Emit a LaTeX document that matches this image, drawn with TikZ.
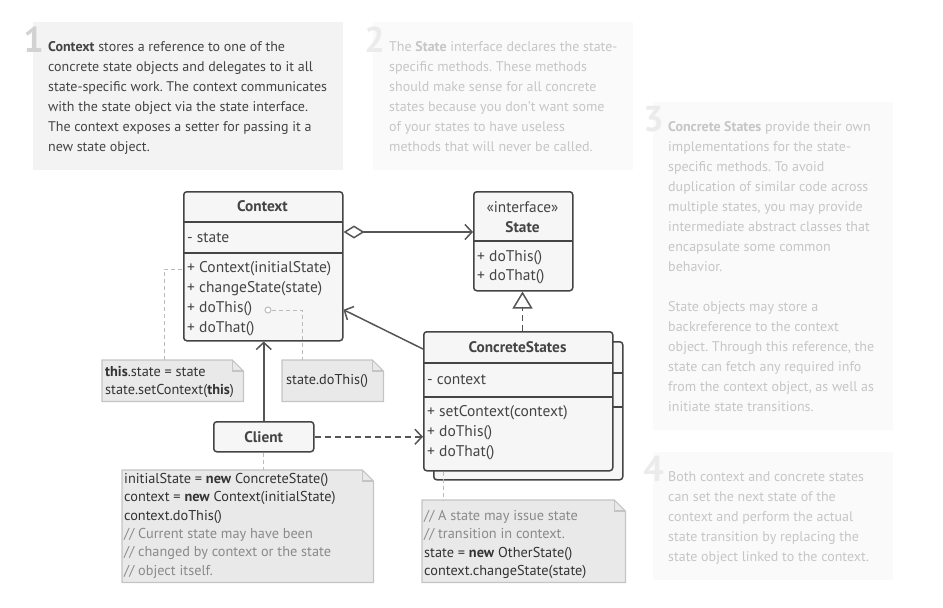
\documentclass[tikz,border=0pt]{standalone}
\usepackage{fontspec}
\setmainfont{PT Sans}
\usetikzlibrary{arrows.meta}
\definecolor{ink}{HTML}{444444}
\definecolor{lineink}{HTML}{555555}
\definecolor{boxfill}{HTML}{F6F6F6}
\definecolor{panelA}{HTML}{F3F3F3}
\definecolor{panelB}{HTML}{FAFAFA}
\definecolor{fadeink}{HTML}{C6C6C6}
\definecolor{numA}{HTML}{D2D2D2}
\definecolor{numB}{HTML}{EBEBEB}
\definecolor{notefill}{HTML}{E9E9E9}
\definecolor{notedraw}{HTML}{C4C4C4}
\definecolor{notelink}{HTML}{BBBBBB}
\definecolor{noteink}{HTML}{333333}
\definecolor{cmt}{HTML}{8A8A8A}
\frenchspacing
\begin{document}
\begin{tikzpicture}[x=1pt,y=-1pt,
  panel/.style={draw=none,fill=#1},
  bignum/.style={anchor=base east,inner sep=0pt,text=#1,font=\fontsize{36}{36}\selectfont\bfseries},
  para/.style={anchor=north west,inner sep=0pt,align=left,text=#1,font=\fontsize{14}{20}\selectfont},
  clsbox/.style={draw=ink,line width=1.5pt,fill=boxfill,rounded corners=3pt,anchor=north west,inner sep=0pt},
  clsdiv/.style={draw=ink,line width=1.5pt},
  clstxt/.style={anchor=west,inner sep=0pt,text=ink,font=\fontsize{15.5}{19}\selectfont},
  clshead/.style={inner sep=0pt,text=ink,font=\fontsize{15.3}{19}\selectfont\bfseries},
  conn/.style={draw=lineink,line width=1.5pt},
  barb/.style={-{Straight Barb[length=7pt,width=15pt,line width=1.5pt]}},
  notebox/.style={draw=none,anchor=north west,inner sep=0pt},
  noteshape/.style={draw=notedraw,fill=notefill,line width=1.2pt},
  notetxt/.style={anchor=north west,inner sep=0pt,align=left,text=noteink,font=\fontsize{14.3}{18.4}\selectfont},
  notelnk/.style={draw=notelink,line width=1pt,dash pattern=on 4pt off 3pt},
]
\useasboundingbox (0,0) rectangle (943,608);

% ---- text panels
\fill[panel=panelA] (33,22) rectangle (343,170);
\fill[panel=panelB] (373,22) rectangle (633,170);
\fill[panel=panelB] (653,102) rectangle (893,430);
\fill[panel=panelB] (653,452) rectangle (893,580);

\node[bignum=numA] (num1) at (44,52) {1};
\node[bignum=numB] (num2) at (385,52) {2};
\node[bignum=numB] (num3) at (664,131) {3};
\node[bignum=numB] (num4) at (664,481) {4};

\node[para=ink] (p1) at (48,41) {\textbf{Context} stores a reference to one of the\\
concrete state objects and delegates to it all\\
state-specific work. The context communicates\\
with the state object via the state interface.\\
The context exposes a setter for passing it a\\
new state object.};

\node[para=fadeink] (p2) at (389,41) {The \textbf{State} interface declares the state-\\
specific methods. These methods\\
should make sense for all concrete\\
states because you don’t want some\\
of your states to have useless\\
methods that will never be called.};

\node[para=fadeink] (p3a) at (668,121) {\textbf{Concrete States} provide their own\\
implementations for the state-\\
specific methods. To avoid\\
duplication of similar code across\\
multiple states, you may provide\\
intermediate abstract classes that\\
encapsulate some common\\
behavior.};

\node[para=fadeink] (p3b) at (668,301) {State objects may store a\\
backreference to the context\\
object. Through this reference, the\\
state can fetch any required info\\
from the context object, as well as\\
initiate state transitions.};

\node[para=fadeink] (p4) at (668,471) {Both context and concrete states\\
can set the next state of the\\
context and perform the actual\\
state transition by replacing the\\
state object linked to the context.};

% ---- Context class
\node[clsbox,minimum width=159pt,minimum height=149pt] (ctx) at (183,191) {};
\draw[clsdiv] (183,222) -- (342,222);
\draw[clsdiv] (183,253) -- (342,253);
\node[clshead] (ctxT) at (262.5,206.5) {Context};
\node[clstxt] (ctxA) at (187,238) {- state};
\node[clstxt] (ctxM1) at (187,269) {+ Context(initialState)};
\node[clstxt] (ctxM2) at (187,289) {+ changeState(state)};
\node[clstxt] (ctxM3) at (187,309) {+ doThis()};
\node[clstxt] (ctxM4) at (187,329) {+ doThat()};

% ---- State interface
\node[clsbox,minimum width=99pt,minimum height=99pt] (state) at (473,191) {};
\draw[clsdiv] (473,241) -- (572,241);
\node[inner sep=0pt,text=ink,font=\fontsize{15.3}{19}\selectfont] (stS) at (522.5,207) {«interface»};
\node[clshead] (stT) at (522.5,227) {State};
\node[clstxt] (stM1) at (477,258) {+ doThis()};
\node[clstxt] (stM2) at (477,277) {+ doThat()};

% ---- ConcreteStates (stacked)
\node[clsbox,minimum width=189pt,minimum height=138pt] (csback) at (433,341) {};
\draw[clsdiv] (433,373) -- (622,373);
\draw[clsdiv] (433,407) -- (622,407);
\node[clsbox,minimum width=189pt,minimum height=139pt] (cs) at (423,331) {};
\draw[clsdiv] (423,363) -- (612,363);
\draw[clsdiv] (423,397) -- (612,397);
\node[clshead] (csT) at (517.5,347) {ConcreteStates};
\node[clstxt] (csA) at (427,380) {- context};
\node[clstxt] (csM1) at (427,413) {+ setContext(context)};
\node[clstxt] (csM2) at (427,433) {+ doThis()};
\node[clstxt] (csM3) at (427,453) {+ doThat()};

% ---- Client
\node[clsbox,minimum width=100pt,minimum height=30pt] (client) at (213,421) {};
\node[clshead] (clT) at (client.center) {Client};

% ---- notes
\node[notebox,minimum width=141pt,minimum height=41pt] (n1) at (102,360) {};
\node[notebox,minimum width=101pt,minimum height=41pt] (n2) at (282,360) {};
\node[notebox,minimum width=251pt,minimum height=112pt] (n3) at (122,470) {};
\node[notebox,minimum width=203pt,minimum height=82pt] (n4) at (422,500) {};
\foreach \n in {n1,n2,n3,n4}{
  \draw[noteshape] (\n.north west) -- ([xshift=-11pt]\n.north east) -- ([yshift=-11pt]\n.north east) -- (\n.south east) -- (\n.south west) -- cycle;
  \draw[noteshape,fill=none] ([xshift=-11pt]\n.north east) -- ([xshift=-11pt,yshift=-11pt]\n.north east) -- ([yshift=-11pt]\n.north east);
}
\node[notetxt] (n1t) at (105,366) {\textbf{this}.state = state\\ state.setContext(\textbf{this})};
\node[notetxt] (n2t) at (286,374) {state.doThis()};
\node[notetxt] (n3t) at (124,473) {initialState = \textbf{new} ConcreteState()\\
context = \textbf{new} Context(initialState)\\
context.doThis()\\
\textcolor{cmt}{// Current state may have been}\\
\textcolor{cmt}{// changed by context or the state}\\
\textcolor{cmt}{// object itself.}};
\node[notetxt] (n4t) at (424,510) {\textcolor{cmt}{// A state may issue state}\\
\textcolor{cmt}{// transition in context.}\\
state = \textbf{new} OtherState()\\
context.changeState(state)};

% ---- note links
\node[circle,draw=notelink,fill=white,line width=1pt,minimum size=6pt,inner sep=0pt] (dot) at (268,310) {};
\draw[notelnk] ([xshift=62pt]n1.north west) |- (ctx.west |- ctxM1);
\draw[notelnk] (dot.east) -| ([xshift=20pt]n2.north west);
\draw[notelnk] (client.south) -- (client.south |- n3.north);
\draw[notelnk] ([xshift=20pt]cs.south west) -- ([xshift=21pt]n4.north west);

% ---- connectors
\coordinate (aggY) at (0,232);
\draw[conn,{Diamond[open,length=21pt,width=13pt,line width=1.5pt]}-{Straight Barb[length=7pt,width=15pt,line width=1.5pt]}] (ctx.east |- aggY) -- (state.west |- aggY);
\draw[conn,dashed,dash pattern=on 6pt off 4pt,-{Triangle[open,length=17pt,width=20pt,line width=1.5pt]}] (cs.north -| stT) -- (state.south -| stT);
\draw[conn,barb] ([yshift=-18pt]cs.north west) -- ([yshift=-43.5pt]ctx.east);
\draw[conn,barb] (client.north) -- (client.north |- ctx.south);
\draw[conn,barb,dash pattern=on 6pt off 4pt] (client.east) -- (client.east -| cs.west);
\end{tikzpicture}
\end{document}
